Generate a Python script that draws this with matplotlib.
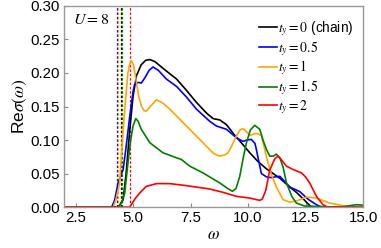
import matplotlib
matplotlib.use("Agg")
import matplotlib.pyplot as plt

plt.rcParams['font.family'] = ['Liberation Sans', 'DejaVu Sans']
plt.rcParams['mathtext.fontset'] = 'stix'

labels = [r"$t_y=0$ (chain)", r"$t_y=0.5$", r"$t_y=1$", r"$t_y=1.5$", r"$t_y=2$"]
colors = ["black", "blue", "orange", "green", "red"]

# t_y = 0 (chain)
w0 = [2.0, 4.3, 4.4, 4.57, 4.7, 4.86, 5.0, 5.15, 5.35, 5.55, 5.73, 5.95, 6.3, 6.89, 7.3, 7.76, 8.2, 8.48, 8.77, 9.06, 9.4, 9.78, 10.1, 10.43, 10.8, 11.38, 11.81, 12.1, 12.39, 12.6, 12.76, 15.0]
s0 = [0.0, 0.0, 0.002, 0.011, 0.05, 0.116, 0.165, 0.196, 0.212, 0.219, 0.220, 0.217, 0.207, 0.191, 0.175, 0.156, 0.140, 0.132, 0.130, 0.123, 0.108, 0.093, 0.080, 0.068, 0.057, 0.043, 0.030, 0.022, 0.0125, 0.005, 0.0, 0.0]

# t_y = 0.5
w1 = [2.0, 4.07, 4.2, 4.35, 4.57, 4.7, 4.86, 5.0, 5.07, 5.22, 5.36, 5.5, 5.7, 5.87, 6.1, 6.45, 6.89, 7.3, 7.76, 8.33, 8.62, 9.06, 9.49, 9.78, 9.95, 10.14, 10.3, 10.36, 10.51, 10.58, 10.8, 11.0, 11.38, 11.81, 12.25, 12.6, 12.97, 13.2, 15.0]
s1 = [0.0, 0.0, 0.01, 0.036, 0.056, 0.09, 0.136, 0.172, 0.183, 0.186, 0.185, 0.192, 0.204, 0.209, 0.204, 0.191, 0.180, 0.165, 0.146, 0.128, 0.121, 0.116, 0.1035, 0.098, 0.100, 0.101, 0.095, 0.086, 0.061, 0.050, 0.045, 0.044, 0.046, 0.030, 0.023, 0.012, 0.0035, 0.0, 0.0]

# t_y = 1
w2 = [2.0, 4.14, 4.25, 4.42, 4.57, 4.7, 4.78, 4.86, 4.93, 5.02, 5.15, 5.25, 5.36, 5.48, 5.58, 5.75, 6.02, 6.3, 6.6, 7.32, 8.04, 8.5, 8.77, 9.0, 9.13, 9.3, 9.49, 9.65, 9.78, 9.92, 10.07, 10.36, 10.58, 10.8, 11.0, 11.23, 11.52, 11.81, 12.1, 12.54, 12.97, 13.55, 14.28, 14.6, 15.0]
s2 = [0.0, 0.0, 0.01, 0.036, 0.116, 0.17, 0.201, 0.214, 0.218, 0.212, 0.186, 0.165, 0.151, 0.144, 0.143, 0.150, 0.160, 0.155, 0.146, 0.121, 0.096, 0.080, 0.076, 0.078, 0.081, 0.092, 0.106, 0.115, 0.117, 0.113, 0.107, 0.110, 0.107, 0.075, 0.050, 0.030, 0.011, 0.0075, 0.009, 0.015, 0.0135, 0.006, 0.001, 0.0, 0.0]

# t_y = 1.5
w3 = [2.0, 4.35, 4.5, 4.64, 4.78, 4.9, 5.0, 5.12, 5.22, 5.36, 5.73, 6.3, 6.89, 7.1, 7.47, 8.04, 8.77, 9.1, 9.32, 9.48, 9.64, 9.8, 9.93, 10.1, 10.29, 10.51, 10.65, 10.8, 10.94, 11.1, 11.23, 11.38, 11.52, 11.67, 11.9, 12.1, 12.46, 14.0, 14.7, 15.0]
s3 = [0.0, 0.0, 0.006, 0.021, 0.066, 0.100, 0.121, 0.132, 0.128, 0.116, 0.096, 0.081, 0.0735, 0.071, 0.061, 0.051, 0.036, 0.028, 0.0235, 0.028, 0.046, 0.075, 0.096, 0.115, 0.122, 0.116, 0.100, 0.086, 0.076, 0.076, 0.079, 0.0735, 0.060, 0.036, 0.016, 0.006, 0.0015, 0.0, 0.0035, 0.003]

# t_y = 2
w4 = [2.0, 4.85, 4.95, 5.1, 5.29, 5.58, 6.02, 6.6, 7.32, 8.33, 8.91, 9.49, 10.07, 10.51, 10.62, 10.77, 10.94, 11.16, 11.3, 11.38, 11.67, 11.96, 12.32, 12.5, 12.68, 12.97, 13.26, 13.45, 15.0]
s4 = [0.0, 0.0, 0.005, 0.013, 0.021, 0.031, 0.035, 0.035, 0.032, 0.027, 0.022, 0.016, 0.0135, 0.010, 0.012, 0.025, 0.055, 0.072, 0.076, 0.0735, 0.061, 0.056, 0.051, 0.045, 0.036, 0.016, 0.0035, 0.0, 0.0]

# gap edges (vertical dashed lines)
edges = [4.47, 4.30, 4.35, 4.53, 4.89]

W = [w0, w1, w2, w3, w4]
S = [s0, s1, s2, s3, s4]

fig = plt.figure(figsize=(3.81, 2.48), dpi=100)
ax = fig.add_axes([0.168, 0.165, 0.785, 0.811])

for e, c in zip(edges, colors):
    ax.axvline(e, color=c, lw=0.9, ls=(0, (2, 1.5)))

for w, s, c, l in zip(W, S, colors, labels):
    ax.plot(w, s, color=c, lw=1.2, label=l)

ax.set_xlim(2.0, 15.0)
ax.set_ylim(0.0, 0.30)
ax.set_xticks([2.5, 5.0, 7.5, 10.0, 12.5, 15.0])
ax.set_yticks([0.0, 0.05, 0.10, 0.15, 0.20, 0.25, 0.30])
ax.set_xticklabels(["2.5", "5.0", "7.5", "10.0", "12.5", "15.0"])
ax.set_yticklabels(["0.00", "0.05", "0.10", "0.15", "0.20", "0.25", "0.30"])
ax.tick_params(direction='in', length=3, width=0.8, labelsize=10.8, color='#888888', pad=3)
for sp in ax.spines.values():
    sp.set_color('#999999')
    sp.set_linewidth(1.0)

ax.set_xlabel(r"$\omega$", fontsize=12, labelpad=1)
ax.set_ylabel(r"Re$\sigma(\omega)$", fontsize=12.5, labelpad=1)
ax.text(0.03, 0.935, r"$U=8$", transform=ax.transAxes, fontsize=11.5, va='center', ha='left')

leg = ax.legend(loc='upper right', frameon=False, fontsize=9.8, handlelength=1.3,
                handletextpad=0.1, labelspacing=0.08, borderaxespad=0.2,
                bbox_to_anchor=(0.995, 0.975))

fig.savefig("out.png", dpi=100)
